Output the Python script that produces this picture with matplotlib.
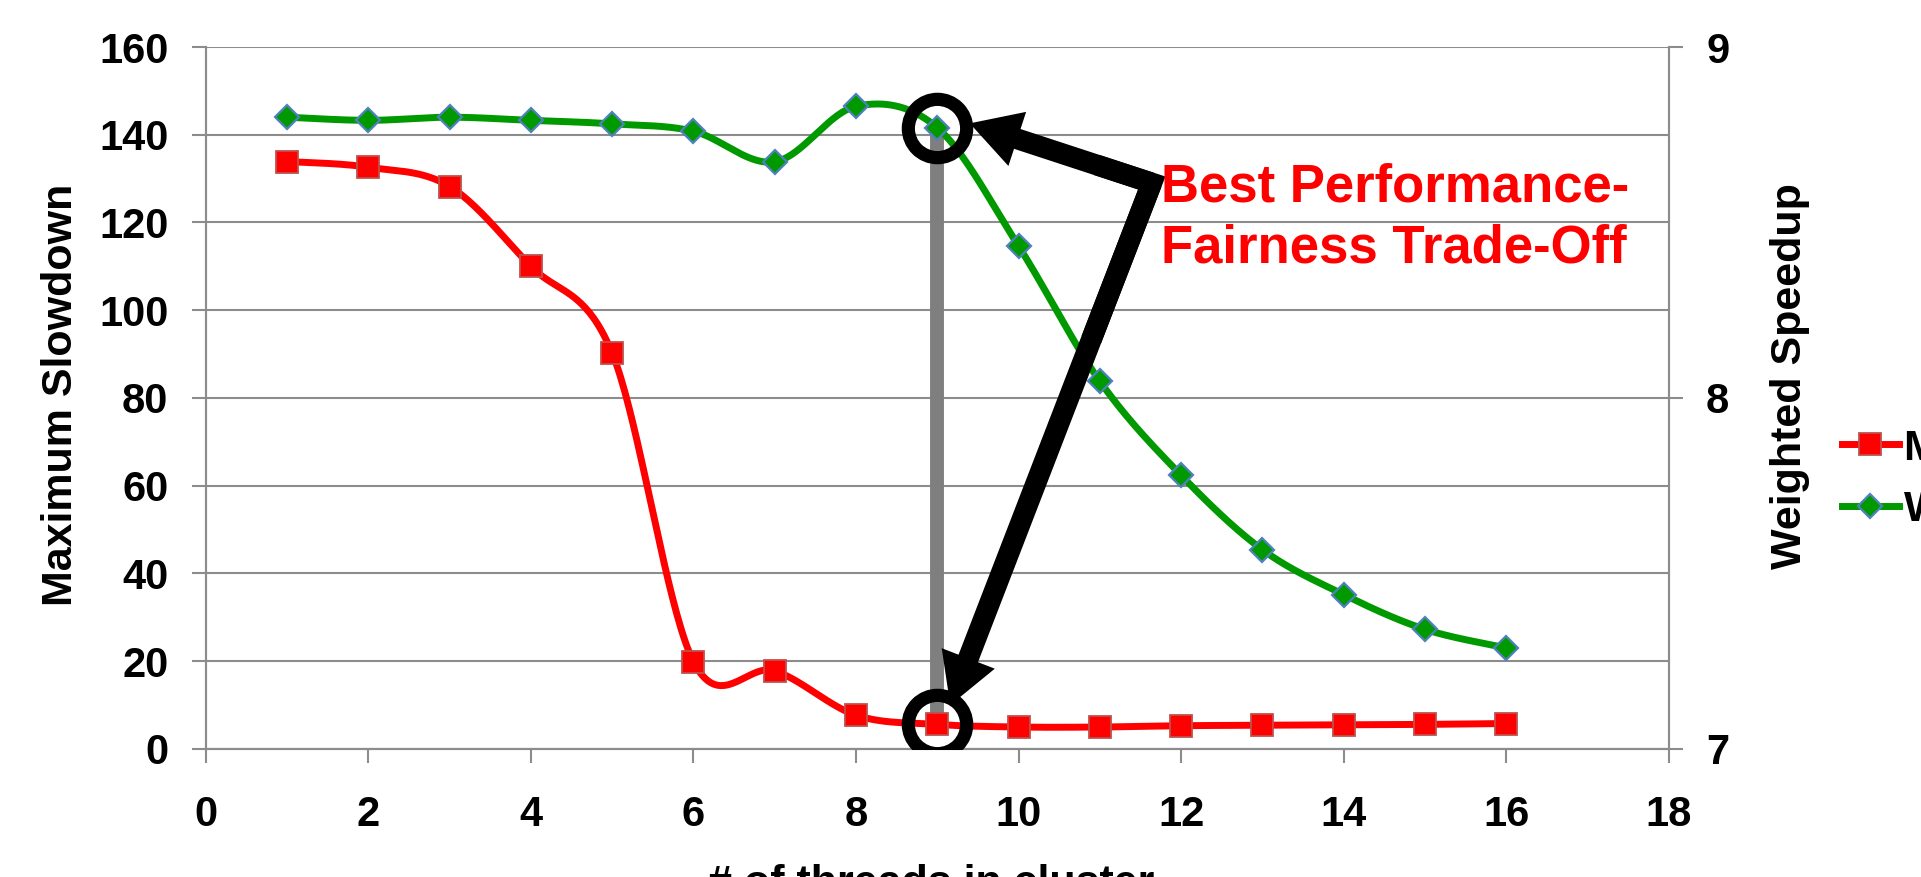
import numpy as np
import matplotlib
matplotlib.use("Agg")
import matplotlib.pyplot as plt
from matplotlib.lines import Line2D
from matplotlib.patches import FancyArrowPatch, ArrowStyle

plt.rcParams['font.family'] = ['Liberation Sans', 'DejaVu Sans']
plt.rcParams['font.weight'] = 'bold'

# datos
hilos = [1, 2, 3, 4, 5, 6, 7, 8, 9, 10, 11, 12, 13, 14, 15, 16]
max_slowdown = [133.9, 132.6, 128.2, 110.0, 90.2, 19.9, 17.8, 7.7,
                5.6, 5.0, 5.0, 5.3, 5.4, 5.5, 5.6, 5.8]
weighted_speedup = [8.800, 8.791, 8.800, 8.791, 8.781, 8.760, 8.673, 8.831,
                    8.770, 8.433, 8.048, 7.780, 7.568, 7.440, 7.341, 7.288]
xticks = list(range(0, 19, 2))
yticks_izq = list(range(0, 161, 20))
yticks_der = [7, 8, 9]
mejor = 9  # punto marcado
texto_nota = "Best Performance-\nFairness Trade-Off"

GRIS = '#8c8c8c'
ROJO = '#ff0000'
VERDE = '#009900'


def suavizar(x, y, n=40):
    # curva tipo Catmull-Rom (como las lineas suavizadas de Excel)
    p = np.column_stack([x, y]).astype(float)
    xs, ys = [], []
    for i in range(len(p) - 1):
        p0 = p[i - 1] if i > 0 else p[i]
        p1 = p[i]
        p2 = p[i + 1]
        p3 = p[i + 2] if i + 2 < len(p) else p[i + 1]
        c1 = p1 + (p2 - p0) / 6
        c2 = p2 - (p3 - p1) / 6
        t = np.linspace(0, 1, n)[:, None]
        seg = ((1 - t) ** 3) * p1 + 3 * ((1 - t) ** 2) * t * c1 + 3 * (1 - t) * t ** 2 * c2 + t ** 3 * p2
        xs.extend(seg[:, 0])
        ys.extend(seg[:, 1])
    return np.array(xs), np.array(ys)


fig = plt.figure(figsize=(19.21, 8.77), dpi=100)
ax = fig.add_axes([0.1072, 0.146, 0.7614, 0.8004])
ax2 = ax.twinx()

ax.set_xlim(0, 18)
ax.set_ylim(0, 160)
ax2.set_ylim(7, 9)
ax.set_xticks(xticks)
ax.set_yticks(yticks_izq)
ax2.set_yticks(yticks_der)

ax.grid(axis='y', color=GRIS, lw=1.5, zorder=0)
ax.set_axisbelow(True)
for a in (ax, ax2):
    for lado in ('left', 'right', 'bottom'):
        a.spines[lado].set_color(GRIS)
        a.spines[lado].set_linewidth(1.5)
    a.spines['top'].set_visible(False)
ax.tick_params(axis='y', direction='out', length=10, width=1.5, color=GRIS, pad=17, labelsize=30)
ax.tick_params(axis='x', direction='out', length=10, width=1.5, color=GRIS, pad=23, labelsize=30)
ax2.tick_params(axis='y', direction='out', length=10, width=1.5, color=GRIS, pad=17, labelsize=30)

# linea gris vertical entre los dos puntos marcados
i = hilos.index(mejor)
y_verde = (weighted_speedup[i] - 7) * 80
ax.plot([mejor, mejor], [max_slowdown[i], y_verde], color='#7f7f7f', lw=10, zorder=1.5,
        solid_capstyle='butt')

# series
xr, yr = suavizar(hilos, max_slowdown)
ax.plot(xr, yr, color=ROJO, lw=5, zorder=2)
ax.plot(hilos, max_slowdown, ls='none', marker='s', ms=16, mfc=ROJO, mec='#c0504d', mew=1.3, zorder=3)

xv, yv = suavizar(hilos, weighted_speedup)
ax2.plot(xv, yv, color=VERDE, lw=5, zorder=2)
ax2.plot(hilos, weighted_speedup, ls='none', marker='D', ms=12, mfc=VERDE, mec='#4f81bd', mew=1.6, zorder=3)

# circulos negros
ax2.plot([mejor], [weighted_speedup[i]], marker='o', ms=42, mfc='none', mec='black', mew=9.5, zorder=5)
ax2.plot([mejor], [7 + max_slowdown[i] / 80], marker='o', ms=42, mfc='none', mec='black', mew=9.5, zorder=5)

# flechas desde el codo hacia los dos circulos
codo = (11.64, 129.0)
punta_sup = (9.40, 142.6)
punta_inf = (9.16, 10.0)
estilo = ArrowStyle.Simple(head_length=36, head_width=41, tail_width=15)
for punta in (punta_sup, punta_inf):
    fl = FancyArrowPatch(codo, punta, arrowstyle=estilo, mutation_scale=1, color='black',
                         lw=0, shrinkA=0, shrinkB=0, transform=ax.transData, zorder=6)
    ax2.add_patch(fl)
a_sup = (codo[0] + 0.3 * (punta_sup[0] - codo[0]), codo[1] + 0.3 * (punta_sup[1] - codo[1]))
a_inf = (codo[0] + 0.3 * (punta_inf[0] - codo[0]), codo[1] + 0.3 * (punta_inf[1] - codo[1]))
ax2.plot([a_sup[0], codo[0], a_inf[0]], [a_sup[1], codo[1], a_inf[1]], color='black', lw=15,
         solid_joinstyle='miter', solid_capstyle='butt', transform=ax.transData, zorder=6)

ax2.text(11.75, 121.0, texto_nota, transform=ax.transData, color=ROJO, fontsize=38,
         fontweight='bold', ha='left', va='center', linespacing=1.3, zorder=7)

# titulos de ejes
fig.text(0.0316, 0.5496, 'Maximum Slowdown', rotation=90, ha='center', va='center', fontsize=31)
fig.text(0.9318, 0.5713, 'Weighted Speedup', rotation=90, ha='center', va='center', fontsize=31)
fig.text(0.4846, -0.021, '# of threads in cluster', ha='center', va='baseline', fontsize=31)

# leyenda
h_rojo = Line2D([], [], color=ROJO, lw=5, marker='s', ms=16, mfc=ROJO, mec='#c0504d', mew=1.3)
h_verde = Line2D([], [], color=VERDE, lw=5, marker='D', ms=12, mfc=VERDE, mec='#4f81bd', mew=1.6)
fig.legend([h_rojo, h_verde], ['Maximum Slowdown', 'Weighted Speedup'], loc='center left',
           bbox_to_anchor=(0.9589, 0.4535), frameon=False, borderpad=0, borderaxespad=0,
           handlelength=1.32, handletextpad=0.12, labelspacing=0.5, numpoints=1,
           prop={'size': 31, 'weight': 'bold'})

fig.savefig('out.png', dpi=100)
